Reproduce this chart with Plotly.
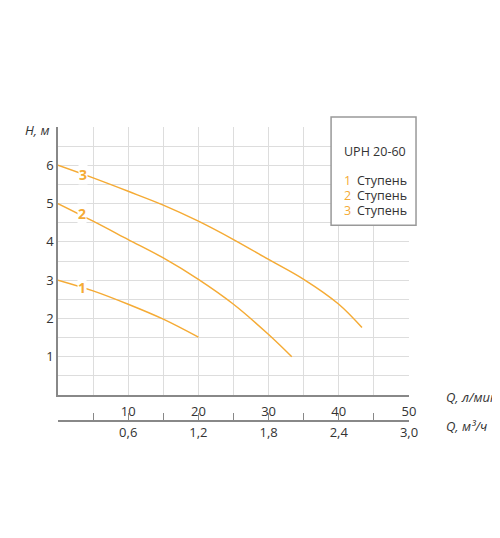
import plotly.graph_objects as go

# characteristic curves, Q in l/min, H in m
q1 = [0, 5, 10, 15, 20]
h1 = [3.0, 2.72, 2.37, 1.98, 1.51]
q2 = [0, 5, 10, 15, 20, 25, 30, 33.3]
h2 = [5.0, 4.54, 4.06, 3.58, 3.02, 2.37, 1.58, 1.0]
q3 = [0, 5, 10, 15, 20, 25, 30, 35, 40, 43.3]
h3 = [6.0, 5.67, 5.32, 4.96, 4.54, 4.06, 3.54, 3.02, 2.37, 1.76]

x_ticks = [5, 10, 15, 20, 25, 30, 35, 40, 45, 50]
x_text = ['', '10', '', '20', '', '30', '', '40', '', '50']
x2_text = ['', '0,6', '', '1,2', '', '1,8', '', '2,4', '', '3,0']
y_ticks = [0.5, 1, 1.5, 2, 2.5, 3, 3.5, 4, 4.5, 5, 5.5, 6, 6.5, 7]
y_text = ['', '1', '', '2', '', '3', '', '4', '', '5', '', '6', '', '']

labels = ['1', '2', '3']
label_pos = [(3.35, 2.8), (3.35, 4.75), (3.6, 5.75)]

orange = '#f5ab35'
txt = '#333333'
font = 'Open Sans'

fig = go.Figure()
for q, h in [(q1, h1), (q2, h2), (q3, h3)]:
    fig.add_trace(go.Scatter(x=q, y=h, mode='lines', line=dict(color=orange, width=1.5, shape='spline'),
                             showlegend=False, hoverinfo='skip'))
# dummy trace for second axis
fig.add_trace(go.Scatter(x=[0, 50], y=[None, None], xaxis='x2', showlegend=False, hoverinfo='skip'))

for lab, (x, y) in zip(labels, label_pos):
    fig.add_annotation(x=x, y=y, text='<b>%s</b>' % lab, showarrow=False, bgcolor='white',
                       font=dict(color=orange, size=14, family=font), borderpad=0)

fig.update_layout(
    width=500, height=538,
    margin=dict(l=50, r=99, t=119, b=110, autoexpand=False),
    plot_bgcolor='white', paper_bgcolor='white',
    font=dict(family=font, size=13, color=txt),
    xaxis=dict(range=[0, 50], tickvals=x_ticks, ticktext=x_text, showgrid=True, gridcolor='#dddddd',
               showline=True, linecolor='#888888', linewidth=1.5, zeroline=False, ticks='',
               ticklabelstandoff=4, automargin=False),
    xaxis2=dict(range=[0, 50], overlaying='x', anchor='free', position=0.0485, side='bottom',
                tickvals=[0] + x_ticks, ticktext=[''] + x2_text, showgrid=False, showline=True,
                linecolor='#888888', linewidth=1.5, ticks='inside', ticklen=7, tickcolor='#888888',
                zeroline=False, automargin=False),
    yaxis=dict(range=[0, 7], domain=[0.1327, 1], tickvals=y_ticks, ticktext=y_text, showgrid=True,
               gridcolor='#dddddd', showline=True, linecolor='#888888', linewidth=1.5, zeroline=False,
               ticks='', automargin=False),
)

fig.add_annotation(xref='paper', yref='paper', x=-0.02, y=1.0, yshift=8, xanchor='right',
                   text='<i>H, м</i>', showarrow=False)
fig.add_annotation(xref='paper', yref='paper', x=1.1, y=0.1327, yshift=-13, xanchor='left',
                   text='<i>Q, л/мин</i>', showarrow=False)
fig.add_annotation(xref='paper', yref='paper', x=1.1, y=0.0485, yshift=-16, xanchor='left',
                   text='<i>Q, м³/ч</i>', showarrow=False)

# legend box
fig.add_shape(type='rect', xref='paper', yref='paper', x0=0.778, x1=1.02, y0=0.682, y1=1.032,
              line=dict(color='#999999', width=1.5), fillcolor='white', layer='above')
fig.add_annotation(xref='paper', yref='paper', x=0.81, y=0.955, xanchor='left', showarrow=False,
                   text='UPH 20-60', font=dict(size=12.5))
legend_y = [0.86, 0.812, 0.765]
for lab, y in zip(labels, legend_y):
    fig.add_annotation(xref='paper', yref='paper', x=0.81, y=y, xanchor='left', showarrow=False,
                       text=lab, font=dict(size=12.5, color=orange))
    fig.add_annotation(xref='paper', yref='paper', x=0.845, y=y, xanchor='left', showarrow=False,
                       text='Ступень', font=dict(size=12.5))

fig.write_html('out.html')
